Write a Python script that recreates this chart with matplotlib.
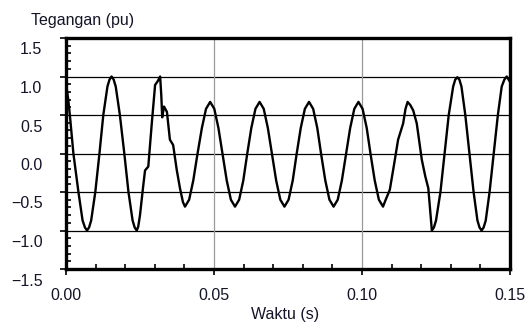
import matplotlib
matplotlib.use("Agg")
import matplotlib.pyplot as plt
import matplotlib.transforms as mtransforms
from matplotlib.ticker import MultipleLocator

# ---- data ----
waktu = [
    0.0000, 0.0007, 0.0013, 0.0025, 0.0042, 0.0056, 0.0064, 0.0071, 0.0078,
    0.0085, 0.0099, 0.0113, 0.0126, 0.0140, 0.0147, 0.0154, 0.0161,
    0.0168, 0.0182, 0.0197, 0.0211, 0.0225, 0.0232, 0.0239, 0.0244,
    0.0250, 0.0260, 0.0267, 0.0278, 0.0290, 0.0301, 0.0310, 0.0318,
    0.0322, 0.0325, 0.0331, 0.0341, 0.0351, 0.0362, 0.0374, 0.0385, 0.0395, 0.0402,
    0.0416, 0.0430, 0.0444, 0.0459, 0.0473, 0.0487,
    0.0501, 0.0515, 0.0529, 0.0543, 0.0557, 0.0571,
    0.0585, 0.0599, 0.0612, 0.0626, 0.0640, 0.0654,
    0.0668, 0.0682, 0.0696, 0.0710, 0.0724, 0.0738,
    0.0752, 0.0766, 0.0779, 0.0793, 0.0807, 0.0821,
    0.0835, 0.0849, 0.0862, 0.0876, 0.0890, 0.0904,
    0.0918, 0.0932, 0.0946, 0.0960, 0.0974, 0.0988,
    0.1002, 0.1016, 0.1029, 0.1043, 0.1057, 0.1071,
    0.1078, 0.1094, 0.1108, 0.1122, 0.1139, 0.1147, 0.1154,
    0.1163, 0.1173, 0.1185, 0.1202, 0.1214, 0.1224, 0.1236, 0.1243,
    0.1250, 0.1265, 0.1279, 0.1293, 0.1308, 0.1315, 0.1322, 0.1329,
    0.1336, 0.1349, 0.1363, 0.1377, 0.1390, 0.1397, 0.1404, 0.1411,
    0.1418, 0.1431, 0.1445, 0.1459, 0.1472, 0.1481, 0.1489, 0.1500,
]
tegangan = [
    0.90, 0.72, 0.50, 0.00, -0.50, -0.87, -0.96, -1.00, -0.96,
    -0.87, -0.50, 0.00, 0.50, 0.87, 0.96, 1.00, 0.96,
    0.87, 0.50, 0.00, -0.50, -0.87, -0.96, -1.00, -0.95,
    -0.80, -0.45, -0.22, -0.17, 0.40, 0.89, 0.94, 1.00,
    0.75, 0.47, 0.61, 0.54, 0.18, 0.11, -0.21, -0.45, -0.63, -0.69,
    -0.60, -0.35, -0.01, 0.33, 0.58, 0.67,
    0.58, 0.33, -0.01, -0.35, -0.60, -0.69,
    -0.60, -0.35, -0.01, 0.33, 0.58, 0.67,
    0.58, 0.33, -0.01, -0.35, -0.60, -0.69,
    -0.60, -0.35, -0.01, 0.33, 0.58, 0.67,
    0.58, 0.33, -0.01, -0.35, -0.60, -0.69,
    -0.60, -0.35, -0.01, 0.33, 0.58, 0.67,
    0.58, 0.33, -0.01, -0.35, -0.60, -0.69,
    -0.62, -0.47, -0.15, 0.18, 0.39, 0.58, 0.67,
    0.63, 0.56, 0.39, -0.08, -0.30, -0.45, -1.00, -0.96,
    -0.87, -0.50, 0.00, 0.50, 0.87, 0.96, 0.99, 0.96,
    0.87, 0.50, 0.00, -0.50, -0.87, -0.96, -1.00, -0.96,
    -0.87, -0.50, 0.00, 0.50, 0.87, 0.96, 1.00, 0.93,
]
x_ticks = [0.00, 0.05, 0.10, 0.15]
x_tick_labels = ["0.00", "0.05", "0.10", "0.15"]
y_ticks = [-1.5, -1.0, -0.5, 0.0, 0.5, 1.0, 1.5]
y_tick_labels = ["\u22121.5", "\u22121.0", "\u22120.5", "0.0", "0.5", "1.0", "1.5"]
y_title = "Tegangan (pu)"
x_title = "Waktu (s)"

plt.rcParams['font.family'] = ['Liberation Sans', 'DejaVu Sans']
plt.rcParams['axes.unicode_minus'] = True

FS = 11.5
TXT = '#141428'

fig = plt.figure(figsize=(5.32, 3.26), dpi=100)
ax = fig.add_axes([66/532, 1-269/326, (510-66)/532, (269-38)/326])

# grid lines
for yv in y_ticks[1:-1]:
    ax.axhline(yv, color='black', lw=0.9, zorder=1)
for xv in x_ticks[1:-1]:
    ax.axvline(xv, color='#9a9a9a', lw=0.9, zorder=1)

ax.plot(waktu, tegangan, color='black', lw=1.7, zorder=3,
        solid_joinstyle='round', solid_capstyle='round')

ax.set_xlim(0.0, 0.15)
ax.set_ylim(-1.5, 1.5)
ax.set_xticks(x_ticks)
ax.set_xticklabels(x_tick_labels)
ax.set_yticks(y_ticks)
ax.set_yticklabels(y_tick_labels)
ax.xaxis.set_minor_locator(MultipleLocator(0.01))
ax.yaxis.set_minor_locator(MultipleLocator(0.1))

ax.tick_params(which='major', direction='out', length=4, width=1.2, color='black',
               labelsize=FS, labelcolor=TXT)
ax.tick_params(axis='y', which='major', pad=13)
ax.tick_params(axis='x', which='major', pad=9.5)
ax.tick_params(which='minor', direction='in', length=3.5, width=1.2, color='black')
ax.tick_params(top=False, right=False, which='both')

for s in ax.spines.values():
    s.set_linewidth(2.4)
    s.set_color('black')

offset = mtransforms.ScaledTranslation(0, -10.5/100, fig.dpi_scale_trans)
for lab in ax.get_yticklabels():
    lab.set_transform(lab.get_transform() + offset)

fig.text(31/532, 1-20/326, y_title, ha='left', va='center', fontsize=FS, color=TXT)
fig.text(285/532, 1-314/326, x_title, ha='center', va='center', fontsize=FS, color=TXT)

fig.savefig('out.png', dpi=100)
